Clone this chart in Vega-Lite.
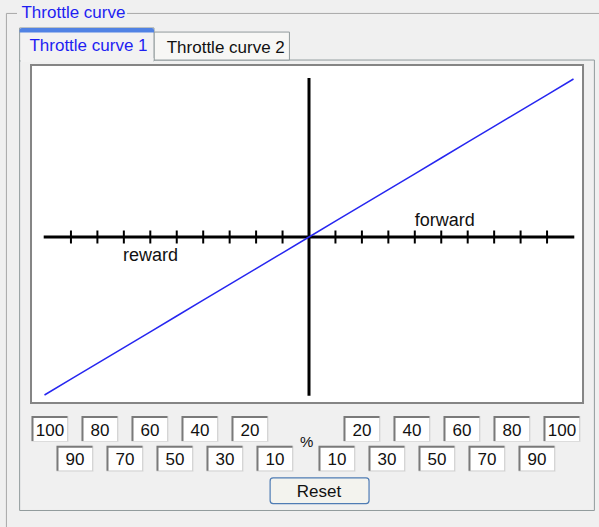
{
  "$schema": "https://vega.github.io/schema/vega-lite/v6.json",
  "width": 599,
  "height": 527,
  "padding": 0,
  "autosize": "none",
  "background": "#F0F0F0",
  "config": {"view": {"stroke": null}, "font": "Liberation Sans"},
  "datasets": {
    "curve": [
      {"t": -100, "out": -100}, {"t": -90, "out": -90}, {"t": -80, "out": -80}, {"t": -70, "out": -70},
      {"t": -60, "out": -60}, {"t": -50, "out": -50}, {"t": -40, "out": -40}, {"t": -30, "out": -30},
      {"t": -20, "out": -20}, {"t": -10, "out": -10}, {"t": 0, "out": 0}, {"t": 10, "out": 10},
      {"t": 20, "out": 20}, {"t": 30, "out": 30}, {"t": 40, "out": 40}, {"t": 50, "out": 50},
      {"t": 60, "out": 60}, {"t": 70, "out": 70}, {"t": 80, "out": 80}, {"t": 90, "out": 90},
      {"t": 100, "out": 100}
    ]
  },
  "resolve": {"scale": {"x": "independent", "y": "independent"}},
  "layer": [
    {
      "layer": [
        {
          "data": {"values": [{}]},
          "mark": {"type": "rect", "fillOpacity": 0, "stroke": "#A8A8A8", "strokeWidth": 1},
          "encoding": {
            "x": {"datum": -114.4, "type": "quantitative", "scale": {"domain": [-100, 100], "range": [44.5, 573.5], "nice": false, "zero": false}, "axis": null},
            "x2": {"datum": 130},
            "y": {"datum": 141.5, "type": "quantitative", "scale": {"domain": [-100, 100], "range": [395, 79], "nice": false, "zero": false}, "axis": null},
            "y2": {"datum": -230}
          }
        },
        {
          "data": {"values": [{}]},
          "mark": {"type": "rect", "fill": "#F0F0F0"},
          "encoding": {
            "x": {"datum": -110.4, "type": "quantitative"},
            "x2": {"datum": -68.8},
            "y": {"datum": 147.5, "type": "quantitative"},
            "y2": {"datum": 135.4}
          }
        },
        {
          "data": {"values": [{}]},
          "mark": {"type": "text", "text": "Throttle curve", "align": "left", "baseline": "middle", "fontSize": 17, "fill": "#1E1EF2"},
          "encoding": {
            "x": {"datum": -108.7, "type": "quantitative"},
            "y": {"datum": 141.5, "type": "quantitative"}
          }
        },
        {
          "data": {"values": [{}]},
          "mark": {"type": "rect", "fillOpacity": 0, "stroke": "#919B9C", "strokeWidth": 1},
          "encoding": {
            "x": {"datum": -109.4, "type": "quantitative"},
            "x2": {"datum": 107.9},
            "y": {"datum": 112.0, "type": "quantitative"},
            "y2": {"datum": -173.1}
          }
        },
        {
          "data": {"values": [{}]},
          "mark": {"type": "rect", "fill": "#F7F7F5", "stroke": "#919B9C", "strokeWidth": 1},
          "encoding": {
            "x": {"datum": -58.6, "type": "quantitative"},
            "x2": {"datum": -7.4},
            "y": {"datum": 129.7, "type": "quantitative"},
            "y2": {"datum": 112.0}
          }
        },
        {
          "data": {"values": [{}]},
          "mark": {"type": "rect", "fill": "#F2F2F2", "stroke": "#919B9C", "strokeWidth": 1},
          "encoding": {
            "x": {"datum": -109.4, "type": "quantitative"},
            "x2": {"datum": -58.6},
            "y": {"datum": 132.3, "type": "quantitative"},
            "y2": {"datum": 111.4}
          }
        },
        {
          "data": {"values": [{}]},
          "mark": {"type": "rect", "fill": "#F2F2F2"},
          "encoding": {
            "x": {"datum": -109.0, "type": "quantitative"},
            "x2": {"datum": -58.8},
            "y": {"datum": 113.3, "type": "quantitative"},
            "y2": {"datum": 110.8}
          }
        },
        {
          "data": {"values": [{}]},
          "mark": {"type": "rect", "fill": "#5082E4", "cornerRadiusTopLeft": 3, "cornerRadiusTopRight": 3},
          "encoding": {
            "x": {"datum": -109.4, "type": "quantitative"},
            "x2": {"datum": -58.6},
            "y": {"datum": 132.3, "type": "quantitative"},
            "y2": {"datum": 129.4}
          }
        },
        {
          "data": {"values": [{}]},
          "mark": {"type": "text", "text": "Throttle curve 1", "align": "left", "baseline": "middle", "fontSize": 17, "fill": "#1E1EF2"},
          "encoding": {
            "x": {"datum": -105.7, "type": "quantitative"},
            "y": {"datum": 120.9, "type": "quantitative"}
          }
        },
        {
          "data": {"values": [{}]},
          "mark": {"type": "text", "text": "Throttle curve 2", "align": "left", "baseline": "middle", "fontSize": 17, "fill": "#111111"},
          "encoding": {
            "x": {"datum": -53.8, "type": "quantitative"},
            "y": {"datum": 119.4, "type": "quantitative"}
          }
        },
        {
          "data": {"values": [{}]},
          "mark": {"type": "rect", "fill": "#FFFFFF", "stroke": "#858585", "strokeWidth": 2},
          "encoding": {
            "x": {"datum": -105.1, "type": "quantitative"},
            "x2": {"datum": 103.6},
            "y": {"datum": 108.9, "type": "quantitative"},
            "y2": {"datum": -105.1}
          }
        },
        {
          "data": {"values": [{}]},
          "mark": {"type": "rule", "stroke": "#000000", "strokeWidth": 3},
          "encoding": {
            "x": {"datum": -100.3, "type": "quantitative"},
            "x2": {"datum": 100.3},
            "y": {"datum": 0, "type": "quantitative"}
          }
        },
        {
          "data": {"values": [{}]},
          "mark": {"type": "rule", "stroke": "#000000", "strokeWidth": 3},
          "encoding": {
            "x": {"datum": 0, "type": "quantitative"},
            "y": {"datum": -100.4, "type": "quantitative"},
            "y2": {"datum": 100.6}
          }
        },
        {
          "data": {"name": "curve"},
          "transform": [{"filter": "datum.t != 0 && abs(datum.t) != 100"}],
          "mark": {"type": "tick", "orient": "vertical", "size": 13, "thickness": 2, "color": "#000000", "opacity": 1},
          "encoding": {
            "x": {"field": "t", "type": "quantitative"},
            "y": {"datum": 0, "type": "quantitative"}
          }
        },
        {
          "data": {"name": "curve"},
          "mark": {"type": "line", "stroke": "#2626F0", "strokeWidth": 1.5},
          "encoding": {
            "x": {"field": "t", "type": "quantitative"},
            "y": {"field": "out", "type": "quantitative"}
          }
        },
        {
          "data": {"values": [{}]},
          "mark": {"type": "text", "text": "reward", "align": "center", "baseline": "middle", "fontSize": 18, "fill": "#111111"},
          "encoding": {
            "x": {"datum": -59.9, "type": "quantitative"},
            "y": {"datum": -12.3, "type": "quantitative"}
          }
        },
        {
          "data": {"values": [{}]},
          "mark": {"type": "text", "text": "forward", "align": "center", "baseline": "middle", "fontSize": 18, "fill": "#111111"},
          "encoding": {
            "x": {"datum": 51.3, "type": "quantitative"},
            "y": {"datum": 10.3, "type": "quantitative"}
          }
        },
        {
          "data": {"values": [{}]},
          "mark": {"type": "text", "text": "%", "align": "center", "baseline": "middle", "fontSize": 15, "fill": "#111111"},
          "encoding": {
            "x": {"datum": -0.9, "type": "quantitative"},
            "y": {"datum": -129.6, "type": "quantitative"}
          }
        },
        {
          "data": {"values": [{}]},
          "mark": {"type": "rect", "fill": "#F3F3EE", "stroke": "#4F7CB4", "strokeWidth": 1.2, "cornerRadius": 3},
          "encoding": {
            "x": {"datum": -14.7, "type": "quantitative"},
            "x2": {"datum": 22.7},
            "y": {"datum": -152.5, "type": "quantitative"},
            "y2": {"datum": -168.7}
          }
        },
        {
          "data": {"values": [{}]},
          "mark": {"type": "text", "text": "Reset", "align": "center", "baseline": "middle", "fontSize": 17, "fill": "#111111"},
          "encoding": {
            "x": {"datum": 3.8, "type": "quantitative"},
            "y": {"datum": -161.4, "type": "quantitative"}
          }
        }
      ]
    },
    {
      "data": {"name": "curve"},
      "transform": [
        {"filter": "datum.t != 0"},
        {"calculate": "abs(datum.out)", "as": "label"},
        {"calculate": "abs(datum.t) % 20 == 0 ? 'top' : 'bottom'", "as": "row"}
      ],
      "encoding": {
        "x": {"field": "t", "type": "quantitative", "scale": {"domain": [-100, -10, 10, 100], "range": [50, 275, 337, 562], "nice": false, "zero": false}, "axis": null},
        "y": {"field": "row", "type": "nominal", "scale": {"type": "point", "domain": ["top", "bottom"], "range": [429, 458.7], "padding": 0}, "axis": null}
      },
      "layer": [
        {"mark": {"type": "rect", "width": 37, "height": 26, "fill": "#DCDCDC"}},
        {"mark": {"type": "rect", "width": 36, "height": 25, "fill": "#7A7A7A", "xOffset": -0.5, "yOffset": -0.5}},
        {"mark": {"type": "rect", "width": 34, "height": 23, "fill": "#FFFFFF", "xOffset": 0.5, "yOffset": 0.5}},
        {
          "mark": {"type": "text", "align": "center", "baseline": "middle", "fontSize": 17, "fill": "#111111", "dy": 1.5},
          "encoding": {"text": {"field": "label", "type": "quantitative"}}
        }
      ]
    }
  ]
}
